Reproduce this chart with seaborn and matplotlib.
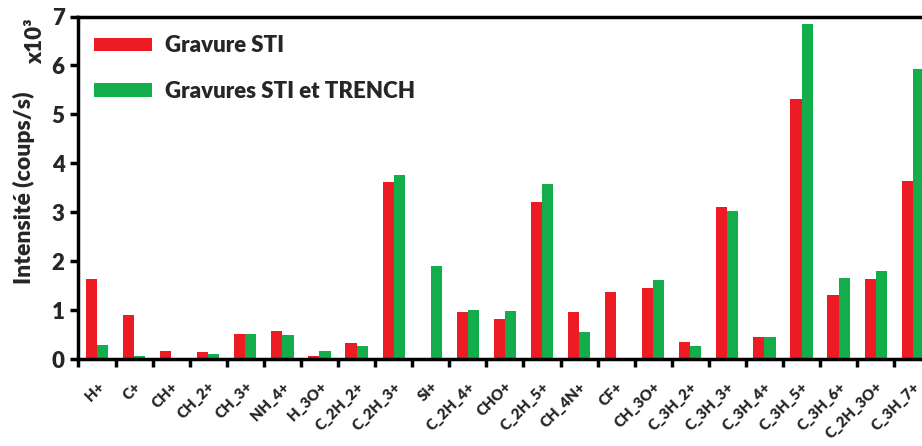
import matplotlib
matplotlib.use("Agg")
import matplotlib.pyplot as plt
import numpy as np
import pandas as pd
import seaborn as sns

# Ion species detected
ions = ["H+", "C+", "CH+", "CH_2+", "CH_3+", "NH_4+", "H_3O+", "C_2H_2+", "C_2H_3+",
        "Si+", "C_2H_4+", "CHO+", "C_2H_5+", "CH_4N+", "CF+", "CH_3O+", "C_3H_2+",
        "C_3H_3+", "C_3H_4+", "C_3H_5+", "C_3H_6+", "C_2H_3O+", "C_3H_7+"]

# Intensities in 10^3 counts/s
sti = [1.63, 0.89, 0.17, 0.14, 0.52, 0.58, 0.07, 0.33, 3.61,
       0.0, 0.97, 0.81, 3.20, 0.97, 1.38, 1.46, 0.35,
       3.10, 0.45, 5.32, 1.30, 1.64, 3.63]
sti_trench = [0.29, 0.06, 0.03, 0.10, 0.51, 0.49, 0.16, 0.27, 3.76,
              1.90, 1.01, 0.99, 3.57, 0.56, 0.0, 1.62, 0.26,
              3.02, 0.46, 6.84, 1.65, 1.80, 5.92]

series_names = ["Gravure STI", "Gravures STI et TRENCH"]
colors = ["#ED1C24", "#13AE4B"]

df = pd.DataFrame({
    "ion": ions * 2,
    "value": sti + sti_trench,
    "serie": [series_names[0]] * len(ions) + [series_names[1]] * len(ions),
})

W = "heavy"

sns.set_theme(style="white")
plt.rcParams["font.family"] = ["Lato", "DejaVu Sans"]
plt.rcParams["font.weight"] = W

fig = plt.figure(figsize=(9.22, 4.46), dpi=100)
ax = fig.add_axes([0.0851, 0.195, 0.925, 0.768])

sns.barplot(data=df, x="ion", y="value", hue="serie", order=ions,
            hue_order=series_names, palette=colors, width=0.6,
            linewidth=0, saturation=1, ax=ax)

n = len(ions)
ax.set_xlim(-0.5, n - 0.5)
ax.set_ylim(0, 7)

# group boundaries carry the tick marks, labels sit under each group
ax.set_xticks(np.arange(n + 1) - 0.5)
ax.set_xticklabels([])
ax.set_xticks(np.arange(n), minor=True)
ax.set_xticklabels(ions, minor=True, rotation=45, ha="right",
                   rotation_mode="anchor", fontsize=10.8, fontweight=W)
ax.tick_params(axis="x", which="minor", length=0, pad=15)
ax.tick_params(axis="x", which="major", direction="out", length=6, width=2.5,
               color="black", bottom=True)

ax.set_yticks(range(0, 8))
ax.set_yticklabels([str(v) for v in range(0, 8)], fontsize=16, fontweight=W)
ax.tick_params(axis="y", direction="out", length=6, width=2.5, color="black",
               left=True, pad=4)

for side in ["left", "bottom", "top", "right"]:
    ax.spines[side].set_color("black")
    ax.spines[side].set_linewidth(2.5)

ax.set_xlabel("")
ax.set_ylabel("Intensité (coups/s)", fontsize=16.5, fontweight=W, labelpad=12)
ax.text(-0.05, 0.995, "x10³", transform=ax.transAxes, rotation=90,
        ha="center", va="top", fontsize=16, fontweight=W)

leg = ax.legend(loc="upper left", bbox_to_anchor=(0.0, 0.99), frameon=False,
                fontsize=16, handlelength=2.6, handleheight=0.55,
                labelspacing=1.1, handletextpad=0.6, borderaxespad=0.3)
for t in leg.get_texts():
    t.set_fontweight(W)

fig.savefig("out.png", dpi=100)
